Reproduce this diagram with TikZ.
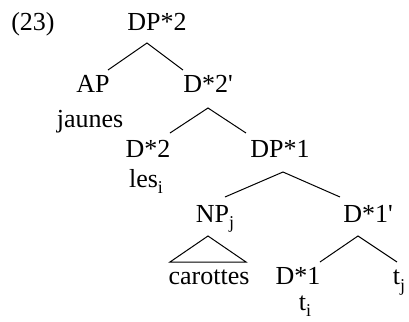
\documentclass[tikz,border=0pt]{standalone}
\usepackage{fontspec}
\setmainfont{Liberation Serif}[Ligatures=TeXOff]
\usetikzlibrary{calc}
\newcommand\sbx[1]{\raisebox{-3.3pt}{\fontsize{9}{10}\selectfont #1}}
\begin{document}
\begin{tikzpicture}[x=0.5pt,y=-0.5pt,
  lbl/.style={anchor=base,inner sep=0pt,font=\fontsize{13}{15}\selectfont},
  br/.style={line width=0.5pt}]
\useasboundingbox (0,0) rectangle (409,322);
\node[lbl] (ex) at (33,30) {(23)};
\node[lbl] (dp2) at (157,30) {DP*2};
\node[lbl] (ap) at (93,92) {AP};
\node[lbl] (jaunes) at (90,127) {jaunes};
\node[lbl] (d2p) at (208,92) {D*2'};
\node[lbl] (d2) at (148,157) {D*2};
\node[lbl] (les) at (146,187) {les\sbx{i}};
\node[lbl] (dp1) at (280,157) {DP*1};
\node[lbl] (np) at (215,222) {NP\sbx{j}};
\node[lbl] (d1p) at (368,222) {D*1'};
\node[lbl] (car) at (209,285) {carottes};
\node[lbl] (d1) at (298,285) {D*1};
\node[lbl] (tj) at (399,285) {t\sbx{j}};
\node[lbl] (ti) at (305,310) {t\sbx{i}};
\draw[br] ($(ap.base)+(15,-22)$) -- ($(dp2.base)+(-10,13)$) -- ($(d2p.base)+(-25,-22)$);
\draw[br] ($(d2.base)+(22,-24)$) -- ($(d2p.base)+(0,16)$) -- ($(dp1.base)+(-34,-24)$);
\draw[br] ($(np.base)+(10,-25)$) -- ($(dp1.base)+(3,15)$) -- ($(d1p.base)+(-28,-25)$);
\draw[br] ($(car.base)+(-39,-23)$) -- ($(np.base)+(-7,14)$) -- ($(car.base)+(37,-23)$) -- cycle;
\draw[br] ($(d1.base)+(22,-23)$) -- ($(d1p.base)+(-10,14)$) -- ($(tj.base)+(-2,-23)$);
\end{tikzpicture}
\end{document}
